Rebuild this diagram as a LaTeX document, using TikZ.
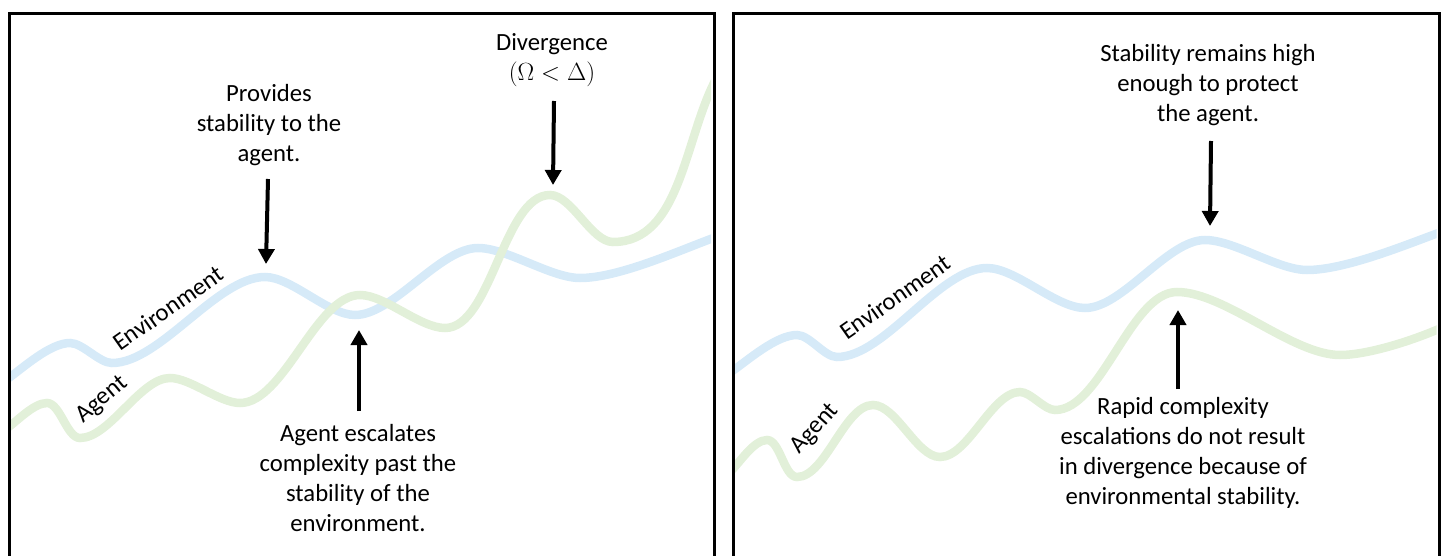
\documentclass[tikz,border=0pt]{standalone}
\usepackage{fontspec}
\setmainfont{Carlito}
\usetikzlibrary{arrows.meta}
\definecolor{envblue}{HTML}{D6EAF8}
\definecolor{agentgreen}{HTML}{E2F0D9}
\begin{document}
\begin{tikzpicture}[x=1pt,y=1pt,
  panel/.style={draw=black, line width=3pt},
  envline/.style={draw=envblue, line width=8.5pt},
  agentline/.style={draw=agentgreen, line width=8.5pt},
  ext/.style={out=0, in=180, looseness=0.7},
  note/.style={align=center, inner sep=0pt, font=\fontsize{24.7}{30}\selectfont},
  curvelabel/.style={inner sep=0pt, font=\fontsize{24.7}{30}\selectfont},
  pointer/.style={line width=4pt, -{Triangle[length=15pt,width=16pt]}}]
\clip (0,0) rectangle (1445,555);

% ---------------- left panel ----------------
\begin{scope}
\clip (9,0) rectangle (711,542);
\draw[envline] (6,175) to[out=35,in=180,looseness=0.7] (70,212) to[ext] (112,192)
  to[ext] (265,278) to[ext] (355,240) to[ext] (478,307) to[ext] (580,277)
  to[out=0,in=200,looseness=0.7] (716,318);
\draw[agentline] (6,126) to[out=35,in=180,looseness=0.7] (47,152) to[ext] (80,117)
  to[ext] (170,177) to[ext] (240,152) to[ext] (360,260) to[ext] (445,227)
  to[ext] (550,360) to[ext] (613,313) to[out=0,in=242,looseness=0.9] (716,476);
\end{scope}
\node[panel, minimum width=705pt, minimum height=560pt, anchor=north west] (leftpanel) at (7.5,543.3) {};

\node[curvelabel, rotate=35] (envlabelL) at (168,247) {Environment};
\node[curvelabel, rotate=40] (agentlabelL) at (102,155) {Agent};

\node[note] (provides) at (269,430) {Provides\\stability to the\\agent.};
\coordinate (providesTail) at (268,376);
\coordinate (providesTip) at (266,291);
\draw[pointer] (providesTail) -- (providesTip);

\node[note] (divergence) at (552,495) {Divergence\\$(\Omega < \Delta)$};
\coordinate (divergenceTail) at (554,454);
\coordinate (divergenceTip) at (553,370);
\draw[pointer] (divergenceTail) -- (divergenceTip);

\node[note] (escalates) at (358,77) {Agent escalates\\complexity past the\\stability of the\\environment.};
\coordinate (escalatesTail) at (359,144);
\coordinate (escalatesTip) at (359,225);
\draw[pointer] (escalatesTail) -- (escalatesTip);

% ---------------- right panel ----------------
\begin{scope}
\clip (734,0) rectangle (1436.5,542);
\draw[envline] (731,183) to[out=35,in=180,looseness=0.7] (797,220) to[ext] (837,198)
  to[ext] (987,287) to[ext] (1085,247) to[ext] (1205,315) to[ext] (1307,285)
  to[out=0,in=200,looseness=0.7] (1441,323);
\draw[agentline] (731,84) to[out=45,in=180,looseness=0.7] (767,115) to[ext] (797,78)
  to[ext] (873,150) to[ext] (940,98) to[ext] (1020,163) to[ext] (1055,145)
  to[ext] (1177,263) to[ext] (1340,200) to[out=0,in=204,looseness=0.7] (1441,227);
\end{scope}
\node[panel, minimum width=705.7pt, minimum height=560pt, anchor=north west] (rightpanel) at (732.3,543.3) {};

\node[curvelabel, rotate=35] (envlabelR) at (895,258) {Environment};
\node[curvelabel, rotate=48] (agentlabelR) at (815,126) {Agent};

\node[note] (protect) at (1208,470) {Stability remains high\\enough to protect\\the agent.};
\coordinate (protectTail) at (1211,414);
\coordinate (protectTip) at (1210,329);
\draw[pointer] (protectTail) -- (protectTip);

\node[note] (rapid) at (1183,102) {Rapid complexity\\escalations do not result\\in divergence because of\\environmental stability.};
\coordinate (rapidTail) at (1178,166);
\coordinate (rapidTip) at (1178,245);
\draw[pointer] (rapidTail) -- (rapidTip);
\end{tikzpicture}
\end{document}
